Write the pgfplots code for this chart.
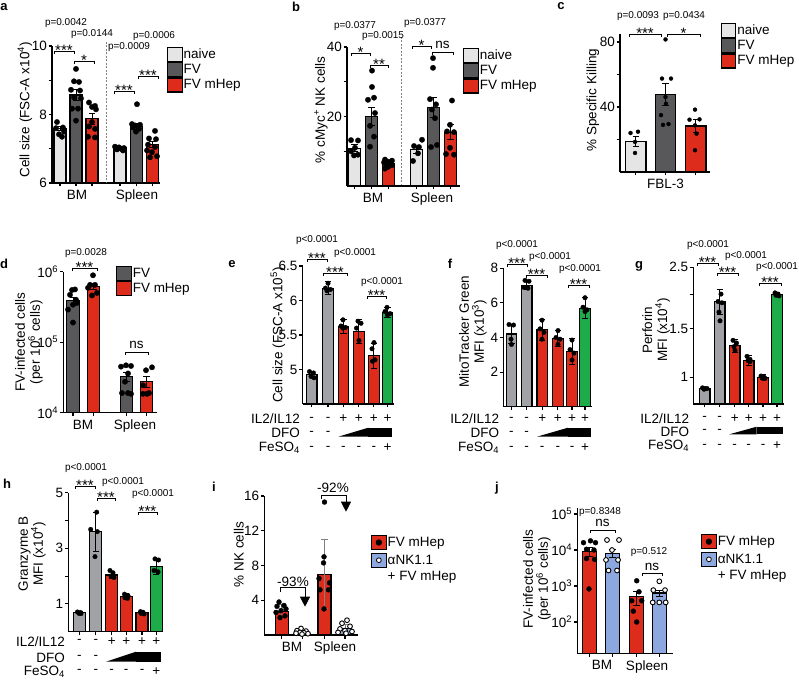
\documentclass[border=0pt]{standalone}
\usepackage{fontspec}
\setmainfont{Liberation Sans}
\usepackage{pgfplots}
\pgfplotsset{compat=1.18}
\usetikzlibrary{arrows.meta}

\newcommand\fs{\fontsize{13.5}{15}\selectfont}
\newcommand\fp{\fontsize{10}{11}\selectfont}
\newcommand\fst{\fontsize{15}{16}\selectfont}
\newcommand\flet{\fontsize{13}{14}\selectfont\bfseries}

\definecolor{naive}{RGB}{229,229,229}
\definecolor{fvg}{RGB}{88,88,90}
\definecolor{mhep}{RGB}{221,44,28}
\definecolor{lgray}{RGB}{160,162,166}
\definecolor{grn}{RGB}{30,172,74}
\definecolor{lblue}{RGB}{140,168,222}

\pgfplotsset{
 pnl/.style={scale only axis, anchor=south west, axis x line=bottom, axis y line=left,
   axis line style={line width=1.3pt, -}, every tick/.style={black, line width=1.1pt},
   tick align=outside, major tick length=3.5pt, minor tick length=0pt,
   tick label style={font=\fs}, yticklabel style={inner sep=1.5pt},
   label style={font=\fs}, ylabel style={anchor=center, align=center},
   enlargelimits=false, /pgf/number format/assume math mode=true,
   legend style={draw=none, fill=none, inner sep=0pt, outer sep=0pt, font=\fs, row sep=0pt,
     anchor=north west, nodes={inner sep=1pt}, /tikz/column sep=0pt,
     /tikz/every odd column/.style={}, /tikz/every even column/.style={}},
   legend cell align=left, xticklabels={},
   extra x tick style={tick style={draw=none}}},
 bx/.style={ybar, bar width=#1, bar shift=0pt, draw=black, line width=1.1pt,
   /pgfplots/error bars/y dir=both, /pgfplots/error bars/y explicit,
   /pgfplots/error bars/error bar style={line width=1pt, black},
   /pgfplots/error bars/error mark options={rotate=90, mark size=3.2pt, line width=1pt, black}},
 gerr/.style={/pgfplots/error bars/error bar style={line width=1pt, gray},
   /pgfplots/error bars/error mark options={rotate=90, mark size=3.2pt, line width=1pt, gray}},
 dts/.style={only marks, mark=*, mark size=#1, mark options={draw=black, fill=black, line width=0.3pt}},
 ods/.style={only marks, mark=*, mark size=#1, mark options={draw=black, fill=white, line width=0.9pt}},
 lgb/.style={legend image code/.code={\draw[fill=#1, draw=black, line width=1.2pt] (0pt,-7pt) rectangle (14.5pt,7pt);}},
 lgf/.style={legend image code/.code={\draw[fill=#1, draw=black, line width=1.2pt] (0pt,-7pt) rectangle (14.5pt,7pt); \fill[black] (7.25pt,0pt) circle (2.6pt);}},
 lgo/.style={legend image code/.code={\draw[fill=#1, draw=black, line width=1.2pt] (0pt,-7pt) rectangle (14.5pt,7pt); \draw[fill=white, line width=0.8pt] (7.25pt,0pt) circle (2.4pt);}},
 lgn/.style={legend image code/.code={}},
}

\begin{document}
\begin{tikzpicture}
\path[use as bounding box] (0,0) rectangle (799pt,682pt);

% ---------------- a
\begin{axis}[pnl, at={(52pt,499pt)}, width=108pt, height=137pt,
  xmin=52, xmax=160, ymin=6, ymax=10,
  xtick={60,76,92,120,136.3,152.5}, extra x ticks={77,137}, extra x tick labels={BM,Spleen},
  ytick={6,7,8,9,10}, yticklabels={6,,8,,10},
  ylabel={Cell size (FSC-A x10\textsuperscript{4})},
  ylabel style={at={(axis description cs:-0.25,0.533)}},
  legend style={at={(1.065,0.992)}}, legend entries={naive,FV,FV mHep}]
\addplot[bx=12pt, fill=naive, lgb=naive] coordinates {(60,7.58) +- (0,0.06)};
\addplot[bx=12pt, fill=fvg, lgb=fvg] coordinates {(76,8.57) +- (0,0.17)};
\addplot[bx=12pt, fill=mhep, lgb=mhep] coordinates {(92,7.87) +- (0,0.16)};
\addplot[bx=12pt, fill=naive] coordinates {(120,7.03) +- (0,0.03)};
\addplot[bx=12pt, fill=fvg] coordinates {(136.3,7.65) +- (0,0.08)};
\addplot[bx=12pt, fill=mhep] coordinates {(152.5,7.12) +- (0,0.09)};
\addplot[dts=2.7pt] coordinates {(57,7.78)(63,7.62)(56,7.6)(64,7.5)(59,7.42)(62,7.35)};
\addplot[dts=2.7pt] coordinates {(76,9.33)(74,8.97)(79,8.95)(71,8.72)(80,8.7)(74,8.5)(81,8.47)(72,8.17)(78,8.17)(76,7.82)};
\addplot[dts=2.7pt] coordinates {(89,8.35)(95,8.25)(92,8.22)(96,8.15)(92,7.78)(89,7.65)(95,7.58)(88,7.35)(95,7.33)};
\addplot[dts=2.7pt] coordinates {(115,7.06)(119,7.04)(124,7.02)(121,7.0)(117,6.98)(123,6.95)};
\addplot[dts=2.7pt] coordinates {(137,8.3)(132,7.72)(140,7.7)(135,7.68)(138,7.65)(133,7.62)(139,7.58)(136,7.5)};
\addplot[dts=2.7pt] coordinates {(155,7.52)(149,7.3)(156,7.28)(148,7.12)(155,7.05)(147,6.95)(152,6.9)(157,6.78)(150,6.75)};
\end{axis}

% ---------------- b
\begin{axis}[pnl, at={(347pt,496pt)}, width=113pt, height=139pt,
  xmin=347, xmax=460, ymin=0, ymax=40,
  xtick={354.5,371.5,388.5,416.5,433.5,450.5}, extra x ticks={373,432}, extra x tick labels={BM,Spleen},
  ytick={10,20,30,40}, yticklabels={,20,,40},
  ylabel={\% cMyc\textsuperscript{+} NK cells},
  ylabel style={at={(axis description cs:-0.23,0.547)}},
  legend style={at={(1.027,0.993)}}, legend entries={naive,FV,FV mHep}]
\addplot[bx=12pt, fill=naive, lgb=naive] coordinates {(354.5,10.9) +- (0,0.9)};
\addplot[bx=12pt, fill=fvg, lgb=fvg] coordinates {(371.5,20) +- (0,2.7)};
\addplot[bx=12pt, fill=mhep, lgb=mhep] coordinates {(388.5,6.5) +- (0,0.6)};
\addplot[bx=12pt, fill=naive] coordinates {(416.5,10.4) +- (0,1.1)};
\addplot[bx=12pt, fill=fvg] coordinates {(433.5,22.7) +- (0,2.9)};
\addplot[bx=12pt, fill=mhep] coordinates {(450.5,15.5) +- (0,2.2)};
\addplot[dts=2.7pt] coordinates {(351,13.2)(358,13.1)(355,11)(351,10)(358,9)(354,8.8)};
\addplot[dts=2.7pt] coordinates {(372,33.2)(372,28.5)(374,25.4)(368,24.8)(375,21)(370,17.3)(374,14.2)(370,11.3)};
\addplot[dts=2.7pt] coordinates {(385,7.6)(392,7.3)(388,7.0)(384,6.8)(391,6.5)(386,6.2)(392,6.0)(388,5.5)(385,5.0)};
\addplot[dts=2.7pt] coordinates {(422,13.3)(414,11.5)(419,11.2)(418,9.4)(413,7.2)};
\addplot[dts=2.7pt] coordinates {(433,36.8)(433,34.0)(430,25.0)(436,23.5)(432,22)(435,19.5)(437,11.8)(431,11.2)};
\addplot[dts=2.7pt] coordinates {(452,24.6)(450,17.6)(447,15.7)(454,15.5)(450,11)(446,9.2)(454,9.0)};
\end{axis}

% ---------------- c
\begin{axis}[pnl, at={(620pt,510pt)}, width=90pt, height=138.1pt,
  xmin=620, xmax=710, ymin=0, ymax=85,
  xtick={635.7,665.5,695.7}, extra x ticks={665.5}, extra x tick labels={FBL-3},
  ytick={20,40,60,80}, yticklabels={,40,,80},
  ylabel={\% Specific Killing},
  ylabel style={at={(axis description cs:-0.3,0.52)}},
  legend style={at={(1.119,1.079)}}, legend entries={naive,FV,FV mHep}]
\addplot[bx=20.5pt, fill=naive, lgb=naive] coordinates {(635.7,18.9) +- (0,3.1)};
\addplot[bx=20.5pt, fill=fvg, lgb=fvg] coordinates {(665.5,47.8) +- (0,6.6)};
\addplot[bx=20.5pt, fill=mhep, lgb=mhep] coordinates {(695.7,28.3) +- (0,4.1)};
\addplot[dts=2pt] coordinates {(630.5,24)(638,24.8)(635,18.5)(635,11.7)};
\addplot[dts=2pt] coordinates {(665.5,81.6)(662,57.5)(671,57.5)(665.5,46.2)(666,42)(661,35)(668.5,29.5)(663,29)};
\addplot[dts=2pt] coordinates {(695,38.4)(689.5,32.2)(699.5,32.4)(695,28.7)(696.5,23.6)(695,13.4)};
\end{axis}

% ---------------- d
\begin{axis}[pnl, at={(63.3pt,269.3pt)}, width=93.7pt, height=141pt,
  xmin=63.3, xmax=157, ymode=log, ymin=1e4, ymax=1e6, log origin=infty,
  xtick={73,93.5,126.3,146.3}, extra x ticks={83,135}, extra x tick labels={BM,Spleen},
  ytick={1e4,1e5,1e6}, yticklabels={10\textsuperscript{4},10\textsuperscript{5},10\textsuperscript{6}},
  ylabel={FV-infected cells\\(per 10\textsuperscript{6} cells)},
  ylabel style={at={(axis description cs:-0.366,0.5)}},
  legend style={at={(0.563,1.04)}}, legend entries={FV,FV mHep}]
\addplot[bx=12.3pt, fill=fvg, lgb=fvg] coordinates {(73,3.9e5) +- (0,0.45e5)};
\addplot[bx=12.3pt, fill=mhep, lgb=mhep] coordinates {(93.5,6.1e5) +- (0,0.6e5)};
\addplot[bx=12.3pt, fill=fvg] coordinates {(126.3,3.24e4) +- (0,0.45e4)};
\addplot[bx=12.3pt, fill=mhep] coordinates {(146.3,2.76e4) +- (0,0.5e4)};
\addplot[dts=2.7pt] coordinates {(72,5.5e5)(75,5.6e5)(70,4.7e5)(76,4.0e5)(77,3.6e5)(73,3.4e5)(68,2.9e5)(73,1.9e5)};
\addplot[dts=2.7pt] coordinates {(93,8.9e5)(90,6.5e5)(95,6.5e5)(88,5.9e5)(97,5.0e5)(92,4.6e5)};
\addplot[dts=2.7pt] coordinates {(121,4.5e4)(126,4.7e4)(131,4.6e4)(128,3.6e4)(125,2.75e4)(122,1.9e4)(128,1.9e4)(131,1.85e4)};
\addplot[dts=2.7pt] coordinates {(152,4.4e4)(146,4.0e4)(143,2.45e4)(149,1.9e4)(143,1.85e4)(147,1.85e4)};
\end{axis}

% ---------------- e
\begin{axis}[pnl, at={(302.7pt,278pt)}, width=90.8pt, height=138pt,
  xmin=302.7, xmax=393.5, ymin=4.5, ymax=6.5,
  xtick={311.7,328,343.3,358.8,373.8,387.5},
  ytick={5,5.5,6,6.5}, yticklabels={5,5.5,6,6.5},
  ylabel={Cell size (FSC-A x10\textsuperscript{5})},
  ylabel style={at={(axis description cs:-0.272,0.5)}}]
\addplot[bx=10.5pt, fill=lgray] coordinates {(311.7,4.93) +- (0,0.04)};
\addplot[bx=10.5pt, fill=lgray] coordinates {(328,6.18) +- (0,0.09)};
\addplot[bx=10.5pt, fill=mhep] coordinates {(343.3,5.62) +- (0,0.1)};
\addplot[bx=10.5pt, fill=mhep] coordinates {(358.8,5.55) +- (0,0.17)};
\addplot[bx=10.5pt, fill=mhep] coordinates {(373.8,5.2) +- (0,0.18)};
\addplot[bx=10.5pt, fill=grn] coordinates {(387.5,5.83) +- (0,0.07)};
\addplot[dts=2.3pt] coordinates {(309.5,4.97)(313.5,4.95)(311,4.9)(314,4.88)};
\addplot[dts=2.3pt] coordinates {(328,6.25)(325.5,6.18)(330.5,6.16)(327,6.14)};
\addplot[dts=2.3pt] coordinates {(343,5.72)(341,5.63)(345.5,5.61)(343,5.6)};
\addplot[dts=2.3pt] coordinates {(358,5.7)(361,5.67)(356.5,5.6)(359,5.42)};
\addplot[dts=2.3pt] coordinates {(374,5.39)(372,5.3)(375,5.14)(372.5,5.12)};
\addplot[dts=2.3pt] coordinates {(387,5.9)(385,5.84)(390,5.81)(387.5,5.79)};
\end{axis}

% ---------------- f
\begin{axis}[pnl, at={(503.3pt,275.3pt)}, width=88.7pt, height=138.4pt,
  xmin=503.3, xmax=592, ymin=0, ymax=8,
  xtick={511.3,526.7,542.2,557.8,572,585},
  ytick={2,4,6,8}, yticklabels={2,4,6,8},
  ylabel={MitoTracker Green\\MFI (x10\textsuperscript{3})},
  ylabel style={at={(axis description cs:-0.342,0.54)}}]
\addplot[bx=10.5pt, fill=lgray] coordinates {(511.3,4.2) +- (0,0.55)};
\addplot[bx=10.5pt, fill=lgray] coordinates {(526.7,7.0) +- (0,0.25)};
\addplot[bx=10.5pt, fill=mhep] coordinates {(542.2,4.45) +- (0,0.6)};
\addplot[bx=10.5pt, fill=mhep] coordinates {(557.8,3.95) +- (0,0.45)};
\addplot[bx=10.5pt, fill=mhep] coordinates {(572,3.2) +- (0,0.75)};
\addplot[bx=10.5pt, fill=grn] coordinates {(585,5.7) +- (0,0.6)};
\addplot[dts=2.3pt] coordinates {(509,4.75)(513.5,4.72)(511,3.9)(511.5,3.6)};
\addplot[dts=2.3pt] coordinates {(525,7.3)(529,7.25)(524,6.9)(528,6.85)};
\addplot[dts=2.3pt] coordinates {(542,5.0)(540,4.5)(544,4.3)(542,3.9)};
\addplot[dts=2.3pt] coordinates {(558,4.4)(556,4.0)(560,3.9)(558,3.6)};
\addplot[dts=2.3pt] coordinates {(572,3.85)(570,3.3)(574,3.1)(572,2.7)};
\addplot[dts=2.3pt] coordinates {(585,6.3)(583,5.75)(587,5.6)(585,5.5)};
\end{axis}

% ---------------- g
\begin{axis}[pnl, at={(693.3pt,278pt)}, width=90.7pt, height=136.7pt,
  xmin=693.3, xmax=784, ymode=log, ymin=0.8, ymax=2.5, log origin=infty,
  xtick={704.7,719.7,734.7,748.7,763,777},
  ytick={1,1.5,2,2.5}, yticklabels={1,1.5,,2.5},
  ylabel={Perforin\\MFI (x10\textsuperscript{4})},
  ylabel style={at={(axis description cs:-0.411,0.54)}}]
\addplot[bx=10.5pt, fill=lgray] coordinates {(704.7,0.91) +- (0,0.01)};
\addplot[bx=10.5pt, fill=lgray] coordinates {(719.7,1.88) +- (0,0.2)};
\addplot[bx=10.5pt, fill=mhep] coordinates {(734.7,1.30) +- (0,0.07)};
\addplot[bx=10.5pt, fill=mhep] coordinates {(748.7,1.15) +- (0,0.05)};
\addplot[bx=10.5pt, fill=mhep] coordinates {(763,1.0) +- (0,0.02)};
\addplot[bx=10.5pt, fill=grn] coordinates {(777,1.99) +- (0,0.03)};
\addplot[dts=2.3pt] coordinates {(702.5,0.915)(705,0.91)(707,0.91)(704,0.905)};
\addplot[dts=2.3pt] coordinates {(721,2.0)(718,1.88)(722,1.86)(719,1.72)(720,1.6)};
\addplot[dts=2.3pt] coordinates {(733,1.36)(736.5,1.33)(734,1.29)(735,1.25)};
\addplot[dts=2.3pt] coordinates {(747,1.19)(750,1.16)(748,1.15)(750,1.14)};
\addplot[dts=2.3pt] coordinates {(761,1.01)(764,1.0)(763,0.99)(765,0.99)};
\addplot[dts=2.3pt] coordinates {(775,2.02)(778,2.0)(776,1.98)(779,1.97)};
\end{axis}

% ---------------- h
\begin{axis}[pnl, at={(68.3pt,50.3pt)}, width=94.7pt, height=139pt,
  xmin=68.3, xmax=163, ymin=0, ymax=5,
  xtick={79.3,95.8,111.7,126.2,142,156.2},
  ytick={1,2,3,4,5}, yticklabels={1,,3,,5},
  ylabel={Granzyme B\\MFI (x10\textsuperscript{4})},
  ylabel style={at={(axis description cs:-0.383,0.56)}}]
\addplot[bx=12pt, fill=lgray] coordinates {(79.3,0.68) +- (0,0.03)};
\addplot[bx=12pt, fill=lgray] coordinates {(95.8,3.6) +- (0,0.7)};
\addplot[bx=12pt, fill=mhep] coordinates {(111.7,2.04) +- (0,0.12)};
\addplot[bx=12pt, fill=mhep] coordinates {(126.2,1.28) +- (0,0.1)};
\addplot[bx=12pt, fill=mhep] coordinates {(142,0.68) +- (0,0.04)};
\addplot[bx=12pt, fill=grn] coordinates {(156.2,2.34) +- (0,0.28)};
\addplot[dts=2.3pt] coordinates {(77.5,0.71)(80.5,0.69)(79,0.66)(81,0.65)};
\addplot[dts=2.3pt] coordinates {(96.7,4.3)(90.7,3.68)(97.3,3.6)(95,2.7)};
\addplot[dts=2.3pt] coordinates {(110,2.2)(113,2.12)(111,2.0)(114,1.95)};
\addplot[dts=2.3pt] coordinates {(124.5,1.35)(128,1.3)(125,1.22)(127.5,1.2)};
\addplot[dts=2.3pt] coordinates {(140.5,0.72)(143,0.7)(141,0.66)(144,0.64)};
\addplot[dts=2.3pt] coordinates {(155,2.62)(158.5,2.58)(154,2.2)(158,2.15)};
\end{axis}

% ---------------- i
\begin{axis}[pnl, at={(264.3pt,47pt)}, width=94pt, height=139pt,
  xmin=264.3, xmax=358.3, ymin=0, ymax=16,
  xtick={281.7,302.5,324.5,345}, extra x ticks={292,335}, extra x tick labels={BM,Spleen},
  ytick={4,8,12,16}, yticklabels={4,8,12,16},
  ylabel={\% NK cells},
  ylabel style={at={(axis description cs:-0.27,0.58)}},
  legend style={at={(1.135,0.72)}, row sep=2.5pt}, legend entries={FV mHep,αNK1.1,+ FV mHep}]
\addplot[bx=13pt, fill=mhep, gerr, lgf=mhep] coordinates {(281.7,2.75) +- (0,0.75)};
\addplot[bx=13pt, fill=lblue, gerr, lgo=lblue] coordinates {(302.5,0.3) +- (0,0.2)};
\addplot[draw=none, lgn] coordinates {(300,1)};
\addplot[bx=13pt, fill=mhep, gerr] coordinates {(324.5,7.0) +- (0,3.95)};
\addplot[bx=13pt, fill=lblue, gerr] coordinates {(345,0.7) +- (0,0.5)};
\addplot[dts=2.5pt] coordinates {(279,3.8)(284,3.4)(277,3.3)(286,3.0)(281,2.8)(276,2.6)(285,2.2)(280,2.0)};
\addplot[dts=2.5pt] coordinates {(324.5,15.3)(324,9.0)(323.5,8.3)(319,6.5)(329.5,6.0)(320,5.2)(328.5,5.2)(324,3.0)};
\addplot[ods=2.4pt] coordinates {(301,0.75)(297,0.5)(306,0.45)(300,0.3)(304,0.25)(296,0.2)(308,0.15)(302,0.1)};
\addplot[ods=2.4pt] coordinates {(347,1.7)(342,1.35)(350,1.0)(340,0.7)(345,0.5)(352,0.4)(338,0.3)(346,0.2)};
\end{axis}

% ---------------- j
\begin{axis}[pnl, at={(577.3pt,28.7pt)}, width=96pt, height=145.6pt,
  xmin=577.3, xmax=673.3, ymode=log, ymin=13.5, ymax=1.5e5, log origin=infty,
  xtick={589.5,612.5,636.3,659.5}, extra x ticks={602,647}, extra x tick labels={BM,Spleen},
  ytick={1e2,1e3,1e4,1e5}, yticklabels={10\textsuperscript{2},10\textsuperscript{3},10\textsuperscript{4},10\textsuperscript{5}},
  ylabel={FV-infected cells\\(per 10\textsuperscript{6} cells)},
  ylabel style={at={(axis description cs:-0.42,0.51)}},
  legend style={at={(1.289,0.819)}, row sep=2.5pt}, legend entries={FV mHep,αNK1.1,+ FV mHep}]
\addplot[bx=14.5pt, fill=mhep, lgf=mhep] coordinates {(589.5,9000) +- (0,2500)};
\addplot[bx=14.5pt, fill=lblue, lgo=lblue] coordinates {(612.5,8200) +- (0,2000)};
\addplot[draw=none, lgn] coordinates {(600,1000)};
\addplot[bx=14.5pt, fill=mhep] coordinates {(636.3,505) +- (0,220)};
\addplot[bx=14.5pt, fill=lblue] coordinates {(659.5,640) +- (0,120)};
\addplot[dts=2.5pt] coordinates {(583.5,1.6e4)(590.5,1.8e4)(595.5,1.6e4)(586.5,1.05e4)(594,1.0e4)(586.5,5.8e3)(594.5,5.5e3)(589,8.3e2)};
\addplot[ods=2.4pt] coordinates {(607,1.9e4)(619,1.9e4)(612,1.0e4)(606,5.3e3)(618,5.3e3)(608.5,2.7e3)(617,2.7e3)};
\addplot[dts=2.5pt] coordinates {(636.7,1.4e3)(639,6.9e2)(631.7,3.9e2)(641.7,3.9e2)(633.3,2.0e2)(636.7,1.0e2)};
\addplot[ods=2.4pt] coordinates {(659.3,1.35e3)(653.3,7.7e2)(665,7.7e2)(652.7,3.5e2)(659.3,3.5e2)(665.7,3.5e2)};
\end{axis}

% ---------------- annotations (pixel coordinates, y downward)
\begin{scope}[shift={(0pt,682pt)}, x=1pt, y=-1pt]
\newcommand\brk[3]{\draw[line width=0.8pt] (#1,#3+3) -- (#1,#3) -- (#2,#3) -- (#2,#3+3);}
\newcommand\st[3]{\node[font=\fst, anchor=base, inner sep=0pt] at (#1,#2+5) {#3};}
\newcommand\ns[2]{\node[font=\fs, anchor=base, inner sep=0pt] at (#1,#2-3) {ns};}
\newcommand\pv[3]{\node[font=\fp, inner sep=0pt] at (#1,#2) {#3};}
\tikzset{sg/.style={font=\fs, inner sep=0pt}, rl/.style={font=\fs, anchor=east, inner sep=0pt}}
% letters
\node[font=\flet] at (4,7) {a};
\node[font=\flet] at (296,7) {b};
\node[font=\flet] at (561,6) {c};
\node[font=\flet] at (4,264) {d};
\node[font=\flet] at (232,264) {e};
\node[font=\flet] at (450,264) {f};
\node[font=\flet] at (639,266) {g};
\node[font=\flet] at (7,484) {h};
\node[font=\flet] at (214,487) {i};
\node[font=\flet] at (497,488) {j};
% a
\draw[dash pattern=on 2pt off 1.5pt, gray, line width=0.7pt] (106,42) -- (106,183);
\pv{66}{23}{p=0.0042} \pv{92}{34}{p=0.0144} \pv{129}{47}{p=0.0009} \pv{154}{36}{p=0.0006}
\brk{54}{74}{51} \st{64}{51}{***}
\brk{74}{94}{61} \st{84}{61}{*}
\brk{114}{134}{91} \st{124}{91}{***}
\brk{138}{158}{76} \st{148}{76}{***}
% b
\draw[dash pattern=on 2pt off 1.5pt, gray, line width=0.7pt] (401.7,37) -- (401.7,185);
\pv{355}{26}{p=0.0377} \pv{383}{36}{p=0.0015} \pv{425}{23}{p=0.0377}
\brk{351}{370}{53} \st{360.5}{53}{*}
\brk{370}{388}{65} \st{379}{65}{**}
\brk{412}{431}{46} \st{421.5}{46}{*}
\brk{432}{453}{52} \ns{442.5}{52}
% c
\pv{638}{16}{p=0.0093} \pv{684}{16}{p=0.0434}
\brk{629}{661}{34} \st{645}{34}{***}
\brk{667}{700}{34} \st{683.5}{34}{*}
% d
\pv{86}{253}{p=0.0028}
\brk{72}{97}{268} \st{84.5}{268}{***}
\brk{125}{148}{352} \ns{136.5}{352}
% e
\pv{317}{240}{p<0.0001} \pv{355}{253}{p<0.0001} \pv{382}{282}{p<0.0001}
\brk{307}{327}{259} \st{317}{259}{***}
\brk{323}{347}{273} \st{335}{273}{***}
\brk{367}{386}{296} \st{376.5}{296}{***}
% f
\pv{517}{245}{p<0.0001} \pv{550}{257}{p<0.0001} \pv{580}{269}{p<0.0001}
\brk{507}{527}{264} \st{517}{264}{***}
\brk{526}{547}{275} \st{536.5}{275}{***}
\brk{568}{589}{285} \st{578.5}{285}{***}
% g
\pv{708}{245}{p<0.0001} \pv{746}{256}{p<0.0001} \pv{777}{267}{p<0.0001}
\brk{697}{718}{263} \st{707.5}{263}{***}
\brk{717}{738}{273} \st{727.5}{273}{***}
\brk{759}{781}{283} \st{770}{283}{***}
% h
\pv{86}{468}{p<0.0001} \pv{123}{482}{p<0.0001} \pv{153}{494}{p<0.0001}
\brk{75}{95}{486} \st{85}{486}{***}
\brk{97}{115}{498} \st{106}{498}{***}
\brk{138}{157}{512} \st{147.5}{512}{***}
% j
\pv{600}{512}{p=0.8348} \pv{649}{552}{p=0.512}
\brk{590}{615}{530} \ns{602.5}{530}
\brk{642}{662}{573} \ns{652}{573}
% i arrows
\node[font=\fs, inner sep=0pt] at (293,582) {-93\%};
\draw[line width=0.9pt, -{Triangle[width=10pt,length=10pt]}] (280.7,591.7) -- (280.7,587.7) -- (305,587.7) -- (305,606.7);
\node[font=\fs, inner sep=0pt] at (333,488) {-92\%};
\draw[line width=0.9pt, -{Triangle[width=10pt,length=10pt]}] (321.7,499) -- (321.7,495) -- (346,495) -- (346,511.7);
% treatment rows e
\node[rl] at (300,419) {IL2/IL12};
\node[rl] at (300,433.3) {DFO};
\node[rl] at (300,448) {FeSO\textsubscript{4}};
\foreach \x/\s in {311.7/-,328/-,343.3/+,358.8/+,373.8/+,387.5/+} \node[sg] at (\x,419) {\s};
\foreach \x in {311.7,328} \node[sg] at (\x,433.3) {-};
\fill (338.3,436.7) -- (368.3,436.7) -- (368.3,427.7) -- cycle;
\fill (368.3,427.7) rectangle (391.7,436.7);
\foreach \x/\s in {311.7/-,328/-,343.3/-,358.8/-,373.8/-,387.5/+} \node[sg] at (\x,448) {\s};
% f
\node[rl] at (499.3,419) {IL2/IL12};
\node[rl] at (499.3,433) {DFO};
\node[rl] at (499.3,448) {FeSO\textsubscript{4}};
\foreach \x/\s in {511.3/-,526.7/-,542.2/+,557.8/+,572/+,585/+} \node[sg] at (\x,419) {\s};
\foreach \x in {511.3,526.7} \node[sg] at (\x,433) {-};
\fill (537,436.7) -- (568,436.7) -- (568,427.7) -- cycle;
\fill (568,427.7) rectangle (591,436.7);
\foreach \x/\s in {511.3/-,526.7/-,542.2/-,557.8/-,572/-,585/+} \node[sg] at (\x,448) {\s};
% g
\node[rl] at (689.3,418.8) {IL2/IL12};
\node[rl] at (689.3,431.5) {DFO};
\node[rl] at (689.3,446) {FeSO\textsubscript{4}};
\foreach \x/\s in {704.7/-,719.7/-,734.7/+,748.7/+,763/+,777/+} \node[sg] at (\x,418.8) {\s};
\foreach \x in {704.7,719.7} \node[sg] at (\x,431.5) {-};
\fill (729.3,434.3) -- (756.7,434.3) -- (756.7,426.7) -- cycle;
\fill (756.7,426.7) rectangle (782.7,434.3);
\foreach \x/\s in {704.7/-,719.7/-,734.7/-,748.7/-,763/-,777/+} \node[sg] at (\x,446) {\s};
% h
\node[rl] at (65,641.7) {IL2/IL12};
\node[rl] at (65,657.7) {DFO};
\node[rl] at (65,671.7) {FeSO\textsubscript{4}};
\foreach \x/\s in {79.3/-,95.8/-,111.7/+,126.2/+,142/+,156.2/+} \node[sg] at (\x,641.7) {\s};
\foreach \x in {79.3,95.8} \node[sg] at (\x,657.7) {-};
\fill (106,661.7) -- (136,661.7) -- (136,651.7) -- cycle;
\fill (136,651.7) rectangle (160.7,661.7);
\foreach \x/\s in {79.3/-,95.8/-,111.7/-,126.2/-,142/-,156.2/+} \node[sg] at (\x,671.7) {\s};
\end{scope}
\end{tikzpicture}
\end{document}
